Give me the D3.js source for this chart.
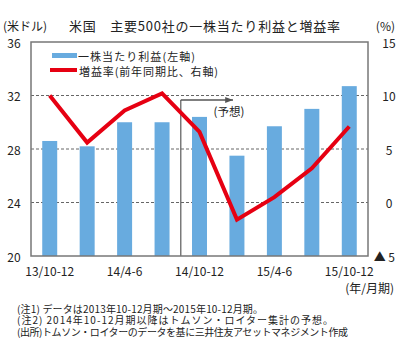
<!DOCTYPE html>
<html><head><meta charset="utf-8">
<script src="https://cdn.jsdelivr.net/npm/d3@7"></script>
<style>
body{margin:0;background:#fff;}
text{font-family:"Noto Sans CJK JP",sans-serif;fill:#222;}
</style></head><body>
<svg id="c" width="402" height="347"></svg>
<script>
const categories = ["13/10-12","14/1-3","14/4-6","14/7-9","14/10-12","15/1-3","15/4-6","15/7-9","15/10-12"];
const epsValues = [28.6, 28.2, 30.0, 30.0, 30.4, 27.5, 29.7, 31.0, 32.7];
const growthValues = [10.0, 5.6, 8.6, 10.2, 6.6, -1.6, 0.5, 3.2, 7.1];
const xTickLabels = ["13/10-12","14/4-6","14/10-12","15/4-6","15/10-12"];
const leftTicks = [20, 24, 28, 32, 36];
const rightTicks = [-5, 0, 5, 10, 15];
const notes = [
  "(注1) データは2013年10-12月期～2015年10-12月期。",
  "(注2) 2014年10-12月期以降はトムソン・ロイター集計の予想。",
  "(出所)トムソン・ロイターのデータを基に三井住友アセットマネジメント作成"
];
const noteLengths = [246, 316, 331];

const svg = d3.select("#c");
const L = 31, R = 368, T = 42, B = 256;
const x = d3.scaleBand().domain(categories).range([L, R]).paddingInner(0.6).paddingOuter(0.3);
const yL = d3.scaleLinear().domain([20, 36]).range([B, T]);
const yR = d3.scaleLinear().domain([-5, 15]).range([B, T]);

// gridlines
svg.append("g").selectAll("line").data([24, 28, 32]).join("line")
  .attr("x1", L).attr("x2", R).attr("y1", d => yL(d)).attr("y2", d => yL(d))
  .attr("stroke", "#666").attr("stroke-width", 1).attr("stroke-dasharray", "3,2");

// bars
svg.append("g").selectAll("rect").data(epsValues).join("rect")
  .attr("x", (d, i) => x(categories[i])).attr("width", x.bandwidth())
  .attr("y", d => yL(d)).attr("height", d => B - yL(d))
  .attr("fill", "#68abdf");

// forecast marker
const fx = (x(categories[3]) + x(categories[4]) + x.bandwidth()) / 2;
svg.append("defs").append("marker").attr("id", "ah").attr("viewBox", "0 0 10 10")
  .attr("refX", 10).attr("refY", 5).attr("markerWidth", 6).attr("markerHeight", 6).attr("orient", "auto")
  .append("path").attr("d", "M0,1 L10,5 L0,9 Z").attr("fill", "#555");
svg.append("line").attr("x1", fx).attr("x2", fx).attr("y1", 100).attr("y2", B).attr("stroke", "#666").attr("stroke-width", 1.3);
svg.append("line").attr("x1", fx).attr("x2", 233).attr("y1", 100).attr("y2", 100).attr("stroke", "#555").attr("stroke-width", 1.3).attr("marker-end", "url(#ah)");
svg.append("text").attr("x", 229).attr("y", 111).attr("text-anchor", "middle").attr("dominant-baseline", "central")
  .attr("font-size", 11.5).text("(予想)");

// line
const line = d3.line().x((d, i) => x(categories[i]) + x.bandwidth() / 2).y(d => yR(d));
svg.append("path").datum(growthValues).attr("d", line).attr("fill", "none")
  .attr("stroke", "#e60012").attr("stroke-width", 4).attr("stroke-linejoin", "miter");

// frame
svg.append("rect").attr("x", L).attr("y", T).attr("width", R - L).attr("height", B - T)
  .attr("fill", "none").attr("stroke", "#777").attr("stroke-width", 1.5);

// left axis labels
svg.append("g").selectAll("text").data(leftTicks).join("text")
  .attr("x", 14).attr("y", d => yL(d)).attr("text-anchor", "middle").attr("dominant-baseline", "central")
  .attr("font-size", 12).text(d => d);
// right axis labels
svg.append("g").selectAll("text").data(rightTicks).join("text")
  .attr("x", d => d < 0 ? 395 : 389).attr("y", d => yR(d)).attr("text-anchor", d => d < 0 ? "end" : "middle")
  .attr("dominant-baseline", "central").attr("font-size", 12)
  .text(d => d < 0 ? "▲ " + Math.abs(d) : d);

// x labels
svg.append("g").selectAll("text").data(xTickLabels).join("text")
  .attr("x", d => x(d) + x.bandwidth() / 2).attr("y", 270).attr("text-anchor", "middle")
  .attr("dominant-baseline", "central").attr("font-size", 12).text(d => d);
svg.append("text").attr("x", 394).attr("y", 287).attr("text-anchor", "end").attr("dominant-baseline", "central")
  .attr("font-size", 12).text("(年/月期)");

// title
svg.append("text").attr("x", 3).attr("y", 25).attr("dominant-baseline", "central").attr("font-size", 12).text("(米ドル)");
svg.append("text").attr("x", 69).attr("y", 25).attr("dominant-baseline", "central").attr("font-size", 13).attr("textLength", 271).text("米国　主要500社の一株当たり利益と増益率");
svg.append("text").attr("x", 395).attr("y", 25).attr("text-anchor", "end").attr("dominant-baseline", "central").attr("font-size", 12).text("(%)");

// legend
svg.append("rect").attr("x", 52).attr("y", 53).attr("width", 25).attr("height", 5).attr("fill", "#68abdf");
svg.append("text").attr("x", 78).attr("y", 55.5).attr("dominant-baseline", "central").attr("font-size", 11).attr("textLength", 117).text("一株当たり利益(左軸)");
svg.append("line").attr("x1", 50).attr("x2", 77).attr("y1", 70).attr("y2", 70).attr("stroke", "#e60012").attr("stroke-width", 4);
svg.append("text").attr("x", 79).attr("y", 70.5).attr("dominant-baseline", "central").attr("font-size", 11).attr("textLength", 139).text("増益率(前年同期比、右軸)");

// notes
svg.append("g").selectAll("text").data(notes).join("text")
  .attr("x", 17).attr("y", (d, i) => 308 + i * 11.8).attr("dominant-baseline", "central")
  .attr("font-size", 10).attr("textLength", (d, i) => noteLengths[i]).attr("lengthAdjust", "spacing").text(d => d);
</script></body></html>
